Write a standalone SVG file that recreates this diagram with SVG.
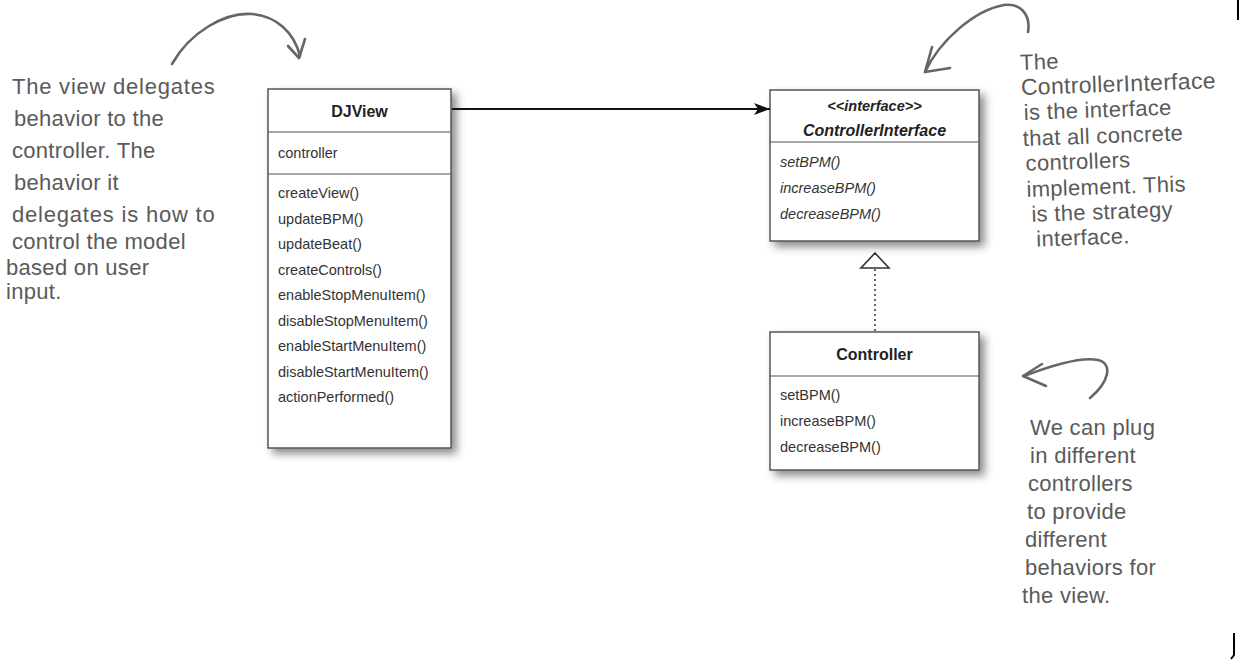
<svg xmlns="http://www.w3.org/2000/svg" width="1247" height="662" viewBox="0 0 1247 662">
<defs>
<filter id="sh" x="-10%" y="-10%" width="130%" height="130%">
<feDropShadow dx="5" dy="5" stdDeviation="4" flood-color="#000" flood-opacity="0.45"/>
</filter>
<marker id="arr" markerWidth="16" markerHeight="12" refX="16" refY="6" orient="auto" markerUnits="userSpaceOnUse">
<path d="M0,0 L16,6 L0,12 L4,6 Z" fill="#111"/>
</marker>
</defs>
<style>
.box{fill:#fff;stroke:#555;stroke-width:1.5}
.div{stroke:#555;stroke-width:1.2}
.t{font-family:"Liberation Sans",Arial,sans-serif;font-size:14.5px;fill:#333}
.h{font-family:"Liberation Sans",Arial,sans-serif;font-size:16px;font-weight:bold;fill:#222;text-anchor:middle}
.i{font-style:italic}
.note{font-family:"Liberation Sans","DejaVu Sans",sans-serif;font-size:22px;fill:#5a5a5a;letter-spacing:0.3px}
.curve{fill:none;stroke:#666;stroke-width:2.6;stroke-linecap:round;stroke-linejoin:round}
</style>
<rect width="1247" height="662" fill="#fff"/>

<g id="DJView">
<rect class="box" x="268" y="89" width="183" height="359" filter="url(#sh)"/>
<line class="div" x1="268" y1="132" x2="451" y2="132"/>
<line class="div" x1="268" y1="174" x2="451" y2="174"/>
<text class="h" x="359.5" y="117">DJView</text>
<text class="t" x="278" y="158">controller</text>
<text class="t" x="278" y="198">createView()</text>
<text class="t" x="278" y="223.5">updateBPM()</text>
<text class="t" x="278" y="249">updateBeat()</text>
<text class="t" x="278" y="274.5">createControls()</text>
<text class="t" x="278" y="300">enableStopMenuItem()</text>
<text class="t" x="278" y="325.5">disableStopMenuItem()</text>
<text class="t" x="278" y="351">enableStartMenuItem()</text>
<text class="t" x="278" y="376.5">disableStartMenuItem()</text>
<text class="t" x="278" y="402">actionPerformed()</text>
</g>

<g id="ControllerInterface">
<rect class="box" x="770" y="90" width="209" height="151" filter="url(#sh)"/>
<line class="div" x1="770" y1="142" x2="979" y2="142"/>
<text class="h i" x="874.5" y="111" style="font-size:14.5px">&lt;&lt;interface&gt;&gt;</text>
<text class="h i" x="874.5" y="136">ControllerInterface</text>
<text class="t i" x="780" y="167">setBPM()</text>
<text class="t i" x="780" y="193">increaseBPM()</text>
<text class="t i" x="780" y="219">decreaseBPM()</text>
</g>

<g id="Controller">
<rect class="box" x="770" y="332" width="209" height="138" filter="url(#sh)"/>
<line class="div" x1="770" y1="376" x2="979" y2="376"/>
<text class="h" x="874.5" y="360">Controller</text>
<text class="t" x="780" y="400">setBPM()</text>
<text class="t" x="780" y="426">increaseBPM()</text>
<text class="t" x="780" y="452">decreaseBPM()</text>
</g>

<g id="connectors">
<line x1="452" y1="109" x2="770" y2="109" stroke="#111" stroke-width="1.8" marker-end="url(#arr)"/>
<line x1="875" y1="269" x2="875" y2="331" stroke="#444" stroke-width="1.6" stroke-dasharray="2,3"/>
<path d="M875,253 L889,268 L861,268 Z" fill="#fff" stroke="#333" stroke-width="1.6"/>
</g>

<g id="note-left">
<path class="curve" d="M172,64 C190,32 225,12 252,14 C276,16 294,32 300,56"/>
<path class="curve" d="M288,46 L299,58 L305,39"/>
<text class="note" x="12" y="94" textLength="203">The view delegates</text>
<text class="note" x="14" y="126">behavior to the</text>
<text class="note" x="12" y="158">controller. The</text>
<text class="note" x="14" y="190">behavior it</text>
<text class="note" x="12" y="222" textLength="203">delegates is how to</text>
<text class="note" x="12" y="249">control the model</text>
<text class="note" x="6" y="275">based on user</text>
<text class="note" x="6" y="299">input.</text>
</g>

<g id="note-top-right">
<path class="curve" d="M1028,32 C1031,14 1020,3 1004,5 C975,10 940,40 925,72"/>
<path class="curve" d="M932,47 L925,72 L950,68"/>
<g transform="rotate(-2 1020 60)">
<text class="note" x="1020" y="70">The</text>
<text class="note" x="1020" y="95" style="font-size:23px">ControllerInterface</text>
<text class="note" x="1022" y="120">is the interface</text>
<text class="note" x="1020" y="146">that all concrete</text>
<text class="note" x="1022" y="171">controllers</text>
<text class="note" x="1022" y="197">implement. This</text>
<text class="note" x="1026" y="222">is the strategy</text>
<text class="note" x="1030" y="247">interface.</text>
</g>
</g>

<g id="note-bottom-right">
<path class="curve" d="M1090,398 C1108,383 1114,364 1098,360 C1080,356 1050,366 1024,376"/>
<path class="curve" d="M1042,364 L1023,376 L1046,386"/>
<text class="note" x="1030" y="435">We can plug</text>
<text class="note" x="1030" y="463">in different</text>
<text class="note" x="1028" y="491">controllers</text>
<text class="note" x="1027" y="519">to provide</text>
<text class="note" x="1025" y="547">different</text>
<text class="note" x="1025" y="575">behaviors for</text>
<text class="note" x="1022" y="603">the view.</text>
</g>

<g id="edge-marks" stroke="#000" stroke-width="2" fill="none">
<line x1="1238" y1="0" x2="1238" y2="20"/>
<path d="M1234,633 L1234,655 L1231,659"/>
</g>
</svg>
